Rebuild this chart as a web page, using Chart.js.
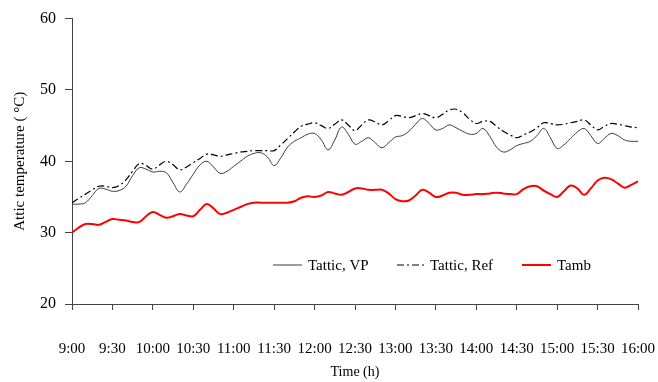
<!DOCTYPE html>
<html>
<head>
<meta charset="utf-8">
<script src="https://cdn.jsdelivr.net/npm/chart.js@4/dist/chart.umd.min.js"></script>
<style>
  html, body { margin: 0; padding: 0; background: #fff; }
  #wrap { width: 658px; height: 382px; }
</style>
</head>
<body>
<div id="wrap"><canvas id="attic"></canvas></div>
<script>
// minutes after 9:00, every 5 min
var minutes = [];
for (var m = 0; m <= 420; m += 5) minutes.push(m);

var tatticVP = [34.0, 34.0, 34.2, 35.2, 36.2, 36.1, 35.8, 35.9, 36.5, 38.0, 39.1, 38.9, 38.5, 38.6, 38.4, 37.0, 35.7, 36.8, 38.2, 39.5,
  40.0, 39.2, 38.3, 38.6, 39.3, 40.0, 40.7, 41.1, 41.2, 40.6, 39.4, 40.5, 42.0, 42.8, 43.3, 43.8, 43.9, 43.0, 41.6, 43.0,
  44.8, 43.8, 42.4, 42.8, 43.3, 42.6, 41.9, 42.6, 43.4, 43.6, 44.2, 45.2, 46.0, 45.3, 44.4, 44.6, 45.1, 44.7, 44.2, 43.8,
  43.9, 44.6, 43.5, 42.0, 41.3, 41.6, 42.2, 42.5, 42.8, 43.6, 44.6, 43.3, 41.8, 42.3, 43.2, 44.1, 44.6, 43.6, 42.5, 43.2,
  43.9, 43.6, 43.0, 42.8, 42.8];

var tatticRef = [34.2, 34.8, 35.4, 36.0, 36.5, 36.5, 36.3, 36.6, 37.4, 38.6, 39.7, 39.4, 38.9, 39.5, 40.0, 39.5, 38.8, 39.2, 39.8, 40.4,
  41.0, 40.9, 40.7, 40.9, 41.1, 41.3, 41.4, 41.5, 41.5, 41.5, 41.5, 42.3, 43.2, 44.1, 44.9, 45.2, 45.4, 45.0, 44.6, 45.2,
  45.8, 45.1, 44.3, 45.1, 45.8, 45.5, 45.1, 45.7, 46.4, 46.3, 46.1, 46.4, 46.7, 46.4, 46.1, 46.6, 47.2, 47.3, 46.8, 45.9,
  45.3, 45.6, 45.6, 44.9, 44.2, 43.7, 43.3, 43.7, 44.1, 44.7, 45.4, 45.3, 45.1, 45.2, 45.4, 45.6, 45.8, 45.1, 44.4, 44.9,
  45.3, 45.2, 45.0, 44.8, 44.7];

var tamb = [30.0, 30.7, 31.2, 31.2, 31.1, 31.5, 31.9, 31.8, 31.7, 31.5, 31.5, 32.3, 32.9, 32.5, 32.1, 32.3, 32.6, 32.4, 32.3, 33.2,
  34.0, 33.4, 32.6, 32.8, 33.2, 33.6, 34.0, 34.2, 34.2, 34.2, 34.2, 34.2, 34.2, 34.4, 34.9, 35.1, 35.0, 35.2, 35.7, 35.5,
  35.3, 35.7, 36.2, 36.2, 36.0, 36.0, 36.0, 35.5, 34.7, 34.4, 34.5, 35.2, 36.0, 35.6, 35.0, 35.2, 35.6, 35.6, 35.3, 35.3,
  35.4, 35.4, 35.5, 35.6, 35.5, 35.4, 35.4, 36.1, 36.5, 36.5, 35.9, 35.4, 35.0, 35.8, 36.6, 36.2, 35.3, 36.2, 37.3, 37.7,
  37.5, 36.9, 36.3, 36.7, 37.2];

var seriesNames = ["Tattic, VP", "Tattic, Ref", "Tamb"];
var xTicks = ["9:00", "9:30", "10:00", "10:30", "11:00", "11:30", "12:00", "12:30", "13:00", "13:30", "14:00", "14:30", "15:00", "15:30", "16:00"];
var yTicks = [20, 30, 40, 50, 60];

var serif = "'Liberation Serif', 'Times New Roman', serif";

function pts(vals) {
  return vals.map(function (v, i) { return { x: minutes[i], y: v }; });
}

// legend drawn inside the plot, like the original
var innerLegend = {
  id: 'innerLegend',
  afterDraw: function (chart) {
    var ctx = chart.ctx;
    var y = 265;
    var items = [
      { ds: 0, x1: 273, x2: 302, tx: 308 },
      { ds: 1, x1: 397, x2: 425, tx: 430 },
      { ds: 2, x1: 522, x2: 551, tx: 557 }
    ];
    ctx.save();
    items.forEach(function (it) {
      var ds = chart.data.datasets[it.ds];
      ctx.strokeStyle = ds.borderColor;
      ctx.lineWidth = ds.borderWidth;
      ctx.setLineDash(ds.borderDash || []);
      ctx.beginPath();
      ctx.moveTo(it.x1, y);
      ctx.lineTo(it.x2, y);
      ctx.stroke();
      ctx.setLineDash([]);
      ctx.fillStyle = '#000';
      ctx.font = "15px " + serif;
      ctx.textBaseline = 'middle';
      ctx.fillText(ds.label, it.tx, y + 1);
    });
    ctx.restore();
  }
};

new Chart(document.getElementById('attic'), {
  type: 'line',
  data: {
    datasets: [
      { label: seriesNames[0], data: pts(tatticVP), borderColor: '#3c3c3c', borderWidth: 1, pointRadius: 0, tension: 0.4, fill: false },
      { label: seriesNames[1], data: pts(tatticRef), borderColor: '#000', borderWidth: 1.2, borderDash: [7, 3, 2, 3], pointRadius: 0, tension: 0.4, fill: false },
      { label: seriesNames[2], data: pts(tamb), borderColor: '#ff0000', borderWidth: 2, pointRadius: 0, tension: 0.4, fill: false }
    ]
  },
  options: {
    responsive: true,
    maintainAspectRatio: false,
    animation: false,
    layout: { padding: { left: 0, right: 20, top: 16, bottom: 0 } },
    plugins: {
      legend: { display: false },
      tooltip: { enabled: false }
    },
    scales: {
      x: {
        type: 'linear',
        min: 0,
        max: 420,
        afterBuildTicks: function (axis) {
          axis.ticks = xTicks.map(function (t, i) { return { value: i * 30 }; });
        },
        afterFit: function (axis) {
          axis.height = 78;
          axis.paddingLeft = 0;
          axis.paddingRight = 0;
        },
        ticks: {
          callback: function (v) { return xTicks[Math.round(v / 30)]; },
          color: '#000',
          font: { family: serif, size: 15 },
          padding: 30,
          maxRotation: 0,
          autoSkip: false
        },
        grid: { drawOnChartArea: false, drawTicks: true, tickLength: 6, color: '#444' },
        border: { display: true, color: '#444', width: 1 },
        title: {
          display: true,
          text: 'Time (h)',
          color: '#000',
          font: { family: serif, size: 14 },
          padding: { top: 0, bottom: 1 }
        }
      },
      y: {
        min: 20,
        max: 60,
        afterBuildTicks: function (axis) {
          axis.ticks = yTicks.map(function (v) { return { value: v }; });
        },
        afterFit: function (axis) { axis.width = 72; },
        ticks: {
          color: '#000',
          font: { family: serif, size: 16 },
          padding: 9
        },
        grid: { drawOnChartArea: false, drawTicks: true, tickLength: 7, color: '#444' },
        border: { display: true, color: '#444', width: 1 },
        title: {
          display: true,
          text: 'Attic temperature ( \u00B0C)',
          color: '#000',
          font: { family: serif, size: 15 },
          padding: { top: 11, bottom: 0 }
        }
      }
    }
  },
  plugins: [innerLegend]
});
</script>
</body>
</html>
